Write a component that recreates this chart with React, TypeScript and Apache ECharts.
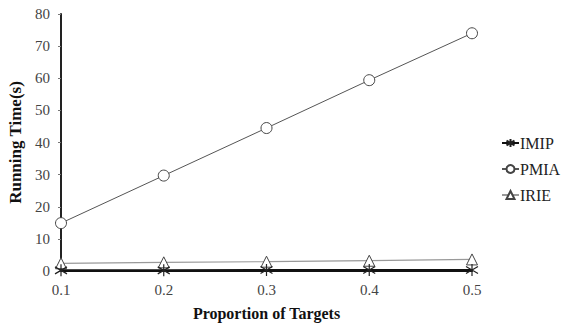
import React, { useEffect, useRef } from "react";
import * as echarts from "echarts";

const categories = ["0.1", "0.2", "0.3", "0.4", "0.5"];
const imipValues = [0.2, 0.2, 0.3, 0.3, 0.3];
const pmiaValues = [14.9, 29.7, 44.5, 59.4, 74.0];
const irieValues = [2.4, 2.7, 2.9, 3.2, 3.6];
const seriesNames = ["IMIP", "PMIA", "IRIE"];

const FONT = "'Liberation Serif', 'DejaVu Serif', serif";
const STAR = "path://M0,-6L0,6M-5,-3.5L5,3.5M-5,3.5L5,-3.5";

export default function App() {
  const ref = useRef<HTMLDivElement>(null);
  useEffect(() => {
    if (!ref.current) return;
    const chart = echarts.init(ref.current, undefined, { renderer: "svg" });
    chart.setOption({
      animation: false,
      backgroundColor: "#ffffff",
      textStyle: { fontFamily: FONT },
      grid: { left: 61, right: 94, top: 14, bottom: 53, containLabel: false, outerBoundsMode: "none" },
      legend: {
        orient: "vertical",
        left: 496,
        top: 130,
        itemWidth: 17,
        itemHeight: 10,
        itemGap: 10,
        textStyle: { fontFamily: FONT, fontSize: 16, color: "#222", padding: [0, 0, 0, -4] },
        data: seriesNames,
      },
      xAxis: {
        type: "category",
        data: categories,
        boundaryGap: false,
        name: "Proportion of Targets",
        nameLocation: "middle",
        nameGap: 34,
        nameTextStyle: { fontFamily: FONT, fontSize: 16, fontWeight: "bold", color: "#111" },
        axisLine: { lineStyle: { color: "#111", width: 2 } },
        axisTick: { show: false },
        axisLabel: { fontFamily: FONT, fontSize: 15, color: "#444", margin: 11 },
        splitLine: { show: false },
      },
      yAxis: {
        type: "value",
        min: 0,
        max: 80,
        interval: 10,
        name: "Running Time(s)",
        nameLocation: "middle",
        nameGap: 33,
        nameTextStyle: { fontFamily: FONT, fontSize: 17, fontWeight: "bold", color: "#111" },
        axisLine: { show: true, lineStyle: { color: "#222", width: 2 } },
        axisTick: { show: true, length: 3, lineStyle: { color: "#777" } },
        axisLabel: { fontFamily: FONT, fontSize: 15, color: "#444", margin: 11 },
        splitLine: { show: false },
      },
      series: [
        {
          name: "IMIP",
          type: "line",
          data: imipValues,
          symbol: STAR,
          symbolSize: 12,
          lineStyle: { color: "#111", width: 2 },
          itemStyle: { color: "transparent", borderColor: "#222", borderWidth: 1.2 },
          z: 5,
        },
        {
          name: "PMIA",
          type: "line",
          data: pmiaValues,
          symbol: "circle",
          symbolSize: 11,
          showSymbol: true,
          lineStyle: { color: "#555", width: 1 },
          itemStyle: { color: "#fff", borderColor: "#444", borderWidth: 1 },
        },
        {
          name: "IRIE",
          type: "line",
          data: irieValues,
          symbol: "triangle",
          symbolSize: 11,
          lineStyle: { color: "#999", width: 1.2 },
          itemStyle: { color: "#fff", borderColor: "#444", borderWidth: 1 },
        },
      ],
    });
    return () => chart.dispose();
  }, []);
  return <div ref={ref} style={{ width: 566, height: 324, position: "absolute", left: 0, top: 0 }} />;
}
